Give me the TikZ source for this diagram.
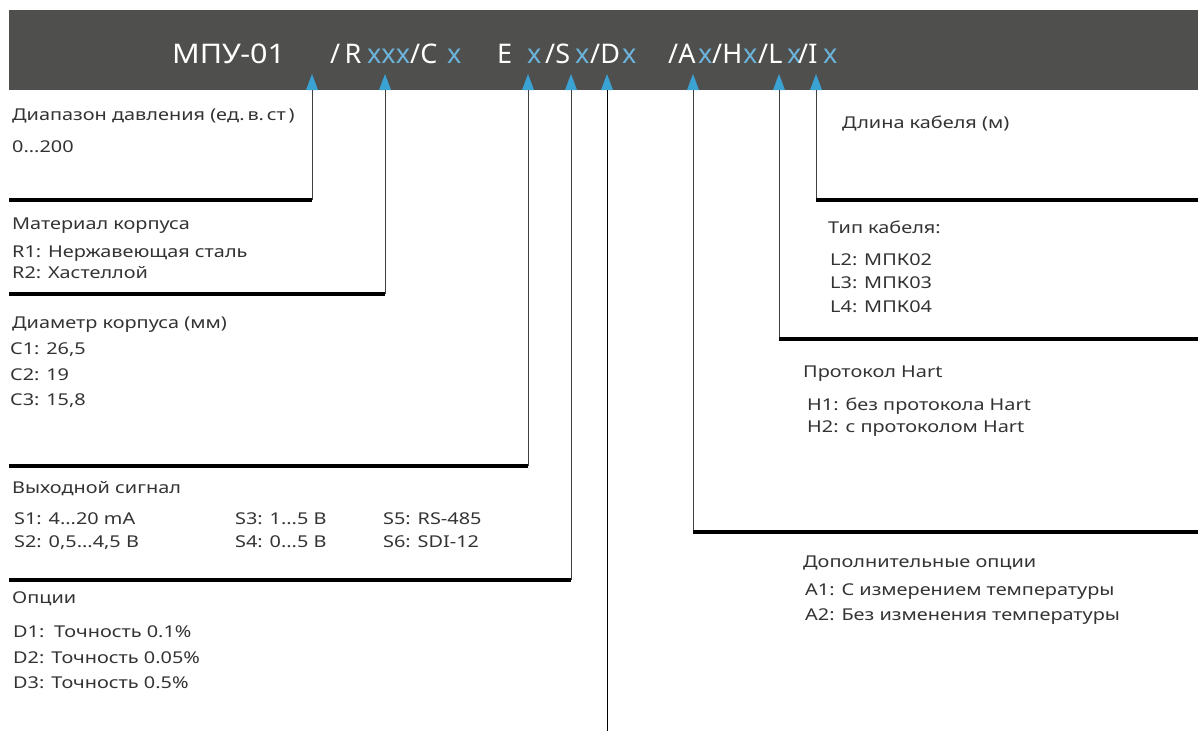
\documentclass[tikz,border=0pt]{standalone}
\usepackage{fontspec}
\setmainfont{Noto Sans}
\newfontfamily\bodyfont{Noto Sans}[FakeStretch=1.22]
\newfontfamily\headfont{Noto Sans}[FakeStretch=1.13]
\definecolor{barcol}{HTML}{4F4F4D}
\definecolor{xblue}{HTML}{6CB4DC}
\definecolor{triblue}{HTML}{3BA3D3}
\begin{document}
\begin{tikzpicture}[x=1pt,y=-1pt,
  hdr/.style={anchor=base west,inner sep=0pt,text=white,font=\fontsize{27}{30}\selectfont},
  hx/.style={hdr,text=xblue},
  lbl/.style={anchor=base west,inner sep=0pt,text=black!80,font=\bodyfont\fontsize{16.3}{19}\selectfont},
  vline/.style={draw=black!75,line width=0.9pt},
  hline/.style={draw=black,line width=3.6pt},
  tri/.style={fill=triblue}
]
\useasboundingbox (0,0) rectangle (1198,731);
% header bar
\fill[barcol] (9,10) rectangle (1198,90);
\node[hdr,font=\headfont\fontsize{27}{30}\selectfont] (t0) at (172,63) {МПУ-01};
\node[hdr] (t1) at (330,63) {/\,R};
\node[hx]  (x1) at (367,63) {xxx};
\node[hdr] (t2) at (410,63) {/C};
\node[hx]  (x2) at (447,63) {x};
\node[hdr] (t3) at (497,63) {E};
\node[hx]  (x3) at (527,63) {x};
\node[hdr] (t4) at (545,63) {/S};
\node[hx]  (x4) at (575,63) {x};
\node[hdr] (t5) at (590,63) {/D};
\node[hx]  (x5) at (622,63) {x};
\node[hdr] (t6) at (668,63) {/A};
\node[hx]  (x6) at (698,63) {x};
\node[hdr] (t7) at (712,63) {/H};
\node[hx]  (x7) at (743,63) {x};
\node[hdr] (t8) at (758,63) {/L};
\node[hx]  (x8) at (787,63) {x};
\node[hdr] (t9) at (798,63) {/I};
\node[hx]  (x9) at (823,63) {x};
% arrow bases (top of connectors)
\foreach \n/\xx in {p/312,r/385,c/528,s/571,d/607,a/693,h/779,l/816}{
  \coordinate (\n0) at (\xx,90);
  \fill[tri] (\xx,74) -- (\xx+6,90) -- (\xx-6,90) -- cycle;
}
% corners and ends
\coordinate (p1) at (312,200); \coordinate (p2) at (9,200);
\coordinate (r1) at (385,294); \coordinate (r2) at (9,294);
\coordinate (c1) at (528,466); \coordinate (c2) at (9,466);
\coordinate (s1) at (571,580); \coordinate (s2) at (9,580);
\coordinate (d1) at (607,731);
\coordinate (a1) at (693,532); \coordinate (a2) at (1198,532);
\coordinate (h1) at (779,339); \coordinate (h2) at (1198,339);
\coordinate (l1) at (816,200); \coordinate (l2) at (1198,200);
\foreach \n in {p,r,c,s,a,h,l}{
  \draw[vline] (\n0) -- (\n1);
  \draw[hline] (\n1) -- (\n2);
}
\draw[vline,draw=black] (d0) -- (d1);
% left labels
\node[lbl] (pA) at (12,120) {Диапазон давления (ед.\,в.\,ст\,)};
\node[lbl] (pB) at (12,152) {0...200};
\node[lbl] (rA) at (12,229) {Материал корпуса};
\node[lbl] (rB) at (12,257) {R1: Нержавеющая сталь};
\node[lbl] (rC) at (12,278) {R2: Хастеллой};
\node[lbl] (cA) at (12,328) {Диаметр корпуса (мм)};
\node[lbl] (cB) at (10,354) {C1: 26,5};
\node[lbl] (cC) at (10,380) {C2: 19};
\node[lbl] (cD) at (10,405) {C3: 15,8};
\node[lbl] (sA) at (12,493) {Выходной сигнал};
\node[lbl] (sB) at (14,524) {S1: 4...20 mA};
\node[lbl] (sC) at (14,547) {S2: 0,5...4,5 B};
\node[lbl] (sD) at (235,524) {S3: 1...5 B};
\node[lbl] (sE) at (235,547) {S4: 0...5 B};
\node[lbl] (sF) at (383,524) {S5: RS-485};
\node[lbl] (sG) at (383,547) {S6: SDI-12};
\node[lbl] (dA) at (12,603) {Опции};
\node[lbl] (dB) at (13,637) {D1:\hspace{0.6em}Точность 0.1\%};
\node[lbl] (dC) at (13,663) {D2: Точность 0.05\%};
\node[lbl] (dD) at (13,688) {D3: Точность 0.5\%};
% right labels
\node[lbl] (lA) at (842,128) {Длина кабеля (м)};
\node[lbl] (hA) at (828,233) {Тип кабеля:};
\node[lbl] (hB) at (830,265) {L2: МПК02};
\node[lbl] (hC) at (830,288) {L3: МПК03};
\node[lbl] (hD) at (830,312) {L4: МПК04};
\node[lbl] (aA) at (803,377) {Протокол Hart};
\node[lbl] (aB) at (807,410) {H1: без протокола Hart};
\node[lbl] (aC) at (807,432) {H2: с протоколом Hart};
\node[lbl] (eA) at (803,567) {Дополнительные опции};
\node[lbl] (eB) at (805,595) {A1: С измерением температуры};
\node[lbl] (eC) at (805,620) {A2: Без изменения температуры};
\end{tikzpicture}
\end{document}
